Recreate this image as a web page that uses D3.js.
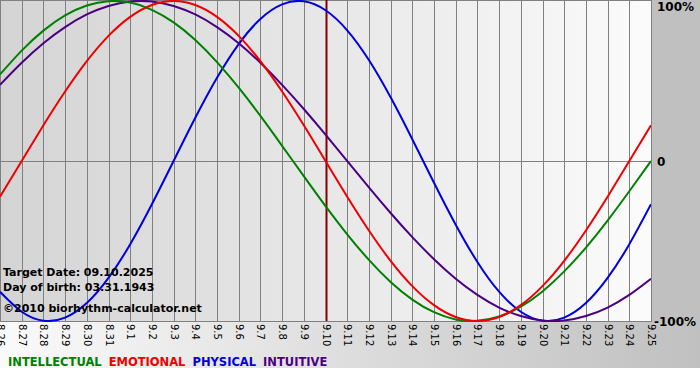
<!DOCTYPE html>
<meta charset="utf-8">
<style>
body { margin: 0; background: #fff; }
svg { display: block; }
.tick-label { font: 10px "DejaVu Sans", sans-serif; fill: #000; }
.info { font: bold 11px "DejaVu Sans", sans-serif; fill: #000; }
.pct { font: bold 12px "DejaVu Sans", sans-serif; fill: #000; }
.legend { font: bold 11.5px "DejaVu Sans", sans-serif; word-spacing: 3px; }
</style>
<svg width="700" height="380"></svg>
<script src="https://d3js.org/d3.v7.min.js"></script>
<script>

// day labels, 8.26 .. 9.25
const days = ['8.26', '8.27', '8.28', '8.29', '8.30', '8.31',
  '9.1', '9.2', '9.3', '9.4', '9.5', '9.6', '9.7', '9.8', '9.9', '9.10',
  '9.11', '9.12', '9.13', '9.14', '9.15', '9.16', '9.17', '9.18', '9.19', '9.20',
  '9.21', '9.22', '9.23', '9.24', '9.25'];

const physical = [-0.817, -0.942, -0.998, -0.979, -0.888, -0.731, -0.520, -0.270, 0, 0.270,
  0.520, 0.731, 0.888, 0.979, 0.998, 0.942, 0.817, 0.631, 0.398, 0.136,
  -0.136, -0.398, -0.631, -0.817, -0.942, -0.998, -0.979, -0.888, -0.731, -0.520, -0.270];

const emotional = [-0.223, 0, 0.223, 0.434, 0.624, 0.782, 0.901, 0.975, 1, 0.975,
  0.901, 0.782, 0.624, 0.434, 0.223, 0, -0.223, -0.434, -0.624, -0.782,
  -0.901, -0.975, -1, -0.975, -0.901, -0.782, -0.624, -0.434, -0.223, 0, 0.223];

const intellectual = [0.541, 0.690, 0.815, 0.910, 0.972, 0.999, 0.990, 0.945, 0.866, 0.756,
  0.618, 0.458, 0.282, 0.095, -0.095, -0.282, -0.458, -0.618, -0.756, -0.866,
  -0.945, -0.990, -0.999, -0.972, -0.910, -0.815, -0.690, -0.541, -0.372, -0.189, 0];

const intuitive = [0.476, 0.614, 0.736, 0.837, 0.916, 0.969, 0.997, 0.997, 0.969, 0.916,
  0.837, 0.736, 0.614, 0.476, 0.325, 0.165, 0, -0.165, -0.325, -0.476,
  -0.614, -0.736, -0.837, -0.916, -0.969, -0.997, -0.997, -0.969, -0.916, -0.837, -0.736];

const targetIndex = 15; // 9.10
const pctLabels = [[1, '100%'], [0, '0'], [-1, '-100%']];
const infoLines = ['Target Date: 09.10.2025', 'Day of birth: 03.31.1943', '\u00a92010 biorhythm-calculator.net'];

const series = [
  { name: 'INTELLECTUAL', values: intellectual, color: '#008000' },
  { name: 'EMOTIONAL', values: emotional, color: '#ee0000' },
  { name: 'PHYSICAL', values: physical, color: '#0000dd' },
  { name: 'INTUITIVE', values: intuitive, color: '#4b0082' }
];
// draw order: physical under others like reference
const drawOrder = ['PHYSICAL', 'INTUITIVE', 'INTELLECTUAL', 'EMOTIONAL'];

const W = 700, H = 380;
const plot = { left: 0, top: 1, right: 651, bottom: 321 };

const svg = d3.select('svg');
const defs = svg.append('defs');

const outerGrad = defs.append('linearGradient').attr('id', 'outer-bg')
  .attr('x1', 0).attr('x2', 1).attr('y1', 0).attr('y2', 0);
outerGrad.append('stop').attr('offset', '0%').attr('stop-color', '#fafafa');
outerGrad.append('stop').attr('offset', '100%').attr('stop-color', '#c0c0c0');

const plotGrad = defs.append('linearGradient').attr('id', 'plot-bg')
  .attr('x1', 0).attr('x2', 1).attr('y1', 0).attr('y2', 0);
plotGrad.append('stop').attr('offset', '0%').attr('stop-color', '#d4d4d4');
plotGrad.append('stop').attr('offset', '100%').attr('stop-color', '#fbfbfb');

defs.append('clipPath').attr('id', 'plot-clip')
  .append('rect')
  .attr('x', plot.left).attr('y', plot.top - 1)
  .attr('width', plot.right - plot.left).attr('height', plot.bottom - plot.top + 2);

svg.append('rect').attr('width', W).attr('height', 368).attr('fill', 'url(#outer-bg)');
svg.append('rect').attr('x', 651).attr('width', 49).attr('height', 322).attr('fill', '#c0c0c0');

const x = d3.scaleLinear().domain([0, days.length - 1]).range([plot.left, plot.right]);
const y = d3.scaleLinear().domain([-1, 1]).range([plot.bottom, plot.top]);

svg.append('rect')
  .attr('x', plot.left).attr('y', 0)
  .attr('width', plot.right - plot.left).attr('height', plot.bottom)
  .attr('fill', 'url(#plot-bg)');

// vertical day grid
svg.append('g').selectAll('line')
  .data(days)
  .enter().append('line')
    .attr('x1', (d, i) => Math.round(x(i)) + 0.5)
    .attr('x2', (d, i) => Math.round(x(i)) + 0.5)
    .attr('y1', 0)
    .attr('y2', plot.bottom + 1)
    .attr('stroke', '#808080')
    .attr('stroke-width', 1);

// frame top / zero / bottom
svg.append('g').selectAll('line')
  .data([0, y(0), plot.bottom])
  .enter().append('line')
    .attr('x1', plot.left).attr('x2', plot.right + 1)
    .attr('y1', d => Math.round(d) + 0.5).attr('y2', d => Math.round(d) + 0.5)
    .attr('stroke', '#808080');

// tick labels, rotated
svg.append('g').selectAll('text')
  .data(days)
  .enter().append('text')
    .attr('class', 'tick-label')
    .attr('transform', (d, i) => `translate(${Math.round(x(i)) + 0.5},${plot.bottom + 3}) rotate(90)`)
    .attr('dy', '0.35em')
    .text(d => d);

// target day
svg.append('line')
  .attr('x1', Math.round(x(targetIndex)) + 0.5).attr('x2', Math.round(x(targetIndex)) + 0.5)
  .attr('y1', 0).attr('y2', plot.bottom)
  .attr('stroke', '#800000').attr('stroke-width', 2);

const line = d3.line()
  .x((d, i) => x(i))
  .y(d => y(d))
  .curve(d3.curveNatural);

const curves = svg.append('g').attr('clip-path', 'url(#plot-clip)');
drawOrder.forEach(name => {
  const s = series.find(o => o.name === name);
  curves.append('path')
    .attr('d', line(s.values))
    .attr('fill', 'none')
    .attr('stroke', s.color)
    .attr('stroke-width', 2);
});

// percent labels
svg.append('g').selectAll('text')
  .data(pctLabels)
  .enter().append('text')
    .attr('class', 'pct')
    .attr('x', d => d[0] === -1 ? 654 : 657)
    .attr('y', d => d[0] === 1 ? y(d[0]) + 10 : y(d[0]) + 5)
    .text(d => d[1]);

// info text
svg.append('g').selectAll('text')
  .data(infoLines)
  .enter().append('text')
    .attr('class', 'info')
    .attr('x', 3)
    .attr('y', (d, i) => [276, 291, 312][i])
    .text(d => d);

// legend
const legend = svg.append('text').attr('class', 'legend').attr('x', 8).attr('y', 366);
series.forEach(s => {
  legend.append('tspan').attr('fill', s.color).text(s.name + ' ');
});

</script>
